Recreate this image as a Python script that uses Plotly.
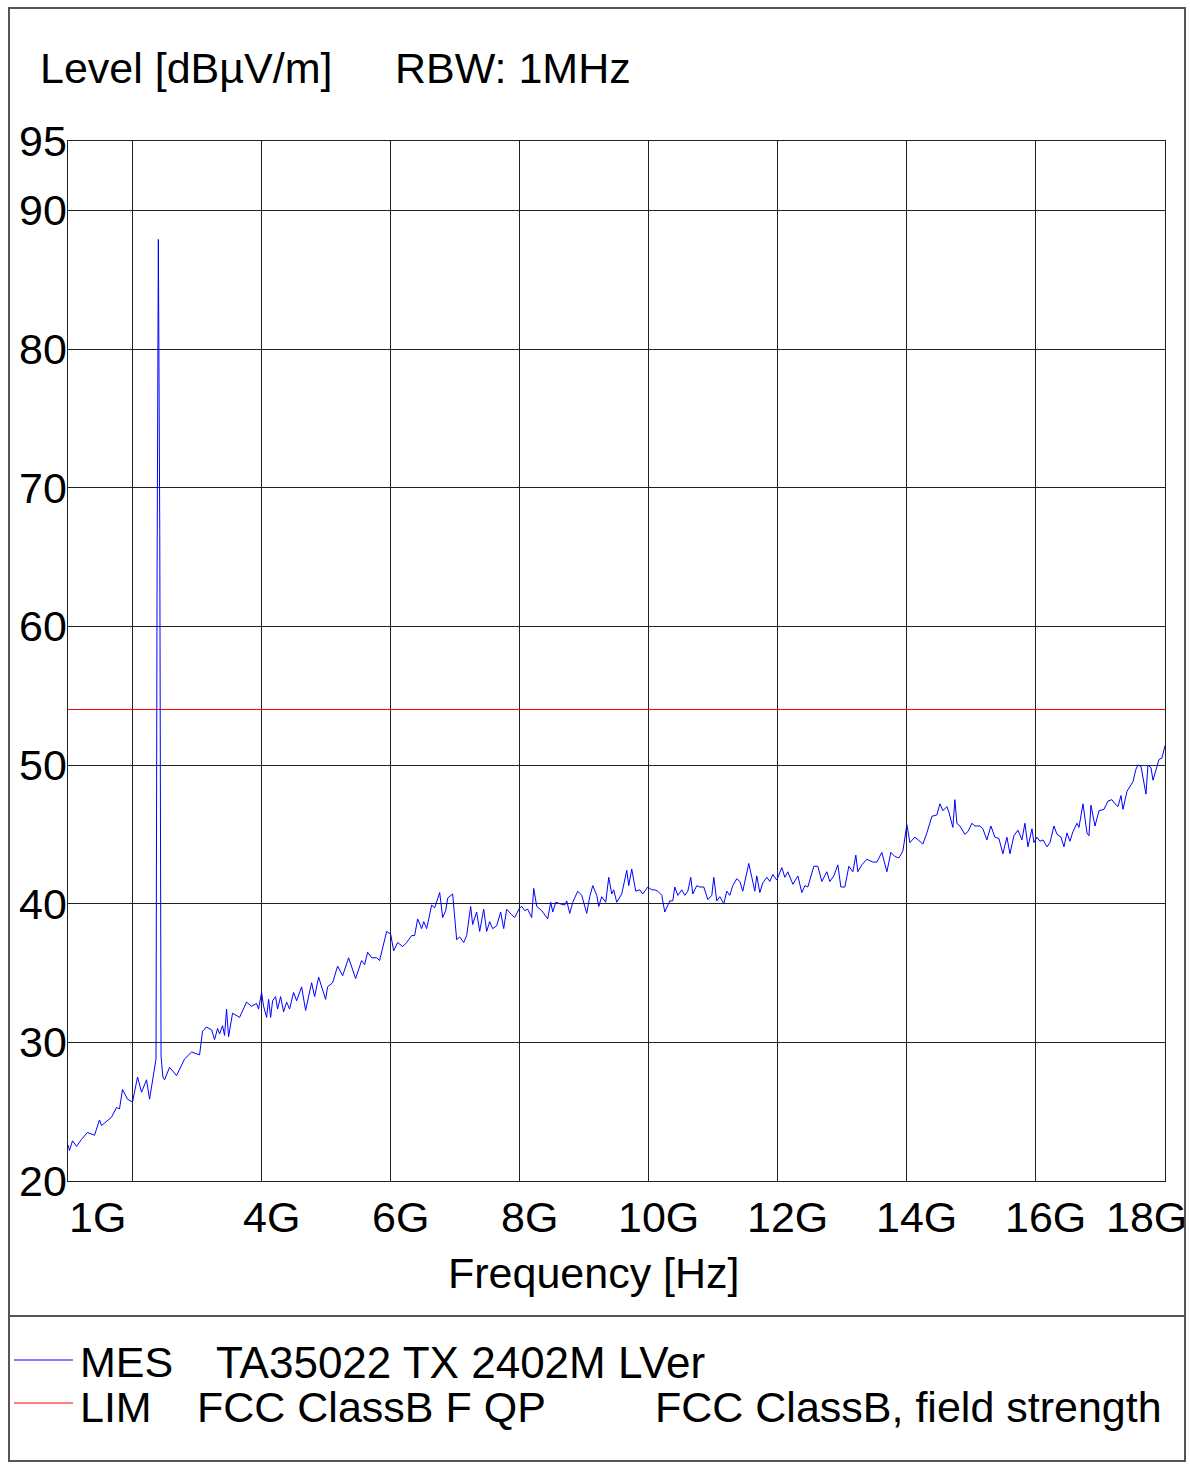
import plotly.graph_objects as go

# measurement trace (GHz, dBuV/m)
freq_ghz = [
    1.000, 1.023, 1.070, 1.132, 1.209, 1.302, 1.411, 1.488, 1.519, 1.597,
    1.674, 1.752, 1.798, 1.845, 1.922, 2.000, 2.078, 2.140, 2.217, 2.264,
    2.341, 2.364, 2.380, 2.400, 2.422, 2.442, 2.470, 2.496, 2.574, 2.682,
    2.806, 2.915, 3.039, 3.085, 3.147, 3.225, 3.271, 3.318, 3.349, 3.395,
    3.426, 3.457, 3.488, 3.550, 3.659, 3.767, 3.845, 3.922, 3.953, 4.000,
    4.031, 4.078, 4.109, 4.140, 4.171, 4.217, 4.248, 4.295, 4.341, 4.388,
    4.434, 4.496, 4.543, 4.620, 4.682, 4.775, 4.822, 4.884, 4.992, 5.023,
    5.101, 5.178, 5.256, 5.349, 5.457, 5.550, 5.597, 5.643, 5.705, 5.783,
    5.829, 5.876, 5.938, 6.000, 6.047, 6.109, 6.186, 6.248, 6.326, 6.372,
    6.419, 6.481, 6.512, 6.558, 6.636, 6.682, 6.760, 6.806, 6.853, 6.884,
    6.961, 7.023, 7.070, 7.132, 7.178, 7.240, 7.271, 7.333, 7.380, 7.442,
    7.488, 7.535, 7.581, 7.643, 7.705, 7.752, 7.798, 7.876, 7.922, 8.000,
    8.031, 8.078, 8.124, 8.186, 8.217, 8.264, 8.341, 8.434, 8.481, 8.512,
    8.558, 8.620, 8.698, 8.729, 8.775, 8.822, 8.899, 8.961, 9.008, 9.039,
    9.085, 9.132, 9.194, 9.225, 9.271, 9.333, 9.380, 9.426, 9.457, 9.504,
    9.581, 9.659, 9.690, 9.736, 9.798, 9.860, 9.907, 9.984, 10.047, 10.093,
    10.140, 10.202, 10.248, 10.326, 10.372, 10.403, 10.450, 10.512, 10.558, 10.605,
    10.651, 10.682, 10.744, 10.791, 10.853, 10.915, 10.977, 11.008, 11.054, 11.101,
    11.163, 11.209, 11.256, 11.302, 11.364, 11.411, 11.457, 11.519, 11.550, 11.597,
    11.643, 11.674, 11.721, 11.767, 11.829, 11.876, 11.922, 11.984, 12.062, 12.109,
    12.155, 12.233, 12.310, 12.372, 12.419, 12.465, 12.558, 12.620, 12.682, 12.760,
    12.806, 12.868, 12.930, 12.977, 13.039, 13.101, 13.163, 13.209, 13.240, 13.302,
    13.380, 13.473, 13.535, 13.612, 13.690, 13.752, 13.814, 13.876, 13.938, 14.000,
    14.047, 14.124, 14.202, 14.248, 14.310, 14.388, 14.465, 14.512, 14.558, 14.620,
    14.651, 14.713, 14.744, 14.775, 14.822, 14.899, 14.946, 15.008, 15.054, 15.132,
    15.178, 15.240, 15.302, 15.364, 15.426, 15.488, 15.550, 15.597, 15.659, 15.721,
    15.783, 15.829, 15.876, 15.938, 15.969, 16.016, 16.062, 16.109, 16.171, 16.217,
    16.279, 16.326, 16.388, 16.434, 16.481, 16.527, 16.574, 16.636, 16.667, 16.729,
    16.791, 16.822, 16.853, 16.915, 16.977, 17.054, 17.116, 17.178, 17.225, 17.271,
    17.318, 17.349, 17.411, 17.457, 17.504, 17.550, 17.581, 17.628, 17.659, 17.705,
    17.736, 17.783, 17.814, 17.860, 17.907, 17.953, 18.000,
]
level_dbuv = [
    22.6, 22.2, 22.9, 22.5, 23.0, 23.5, 23.3, 24.4, 24.0, 24.3,
    24.6, 25.3, 25.2, 26.6, 25.9, 25.7, 27.5, 26.4, 27.3, 25.9,
    28.3, 28.8, 63.0, 87.9, 67.0, 29.0, 27.5, 27.3, 28.2, 27.6,
    28.8, 29.3, 29.1, 30.8, 31.1, 30.9, 30.2, 31.0, 30.6, 31.2,
    30.5, 32.4, 30.4, 32.1, 31.8, 32.9, 32.6, 32.8, 32.4, 33.6,
    32.6, 31.8, 33.1, 31.8, 33.0, 33.3, 32.4, 33.3, 32.2, 32.9,
    32.4, 33.6, 33.0, 34.0, 32.3, 34.3, 33.3, 34.7, 33.1, 34.0,
    34.3, 35.5, 34.8, 36.1, 34.6, 35.9, 35.6, 36.5, 36.1, 36.1,
    35.9, 36.9, 38.0, 37.8, 36.6, 37.2, 36.9, 37.2, 37.7, 37.7,
    38.9, 38.2, 38.7, 38.2, 39.9, 39.7, 40.8, 39.0, 39.5, 40.4,
    40.7, 37.4, 37.6, 37.2, 37.7, 39.8, 38.5, 39.4, 38.0, 39.6,
    38.0, 38.7, 38.2, 38.4, 39.4, 38.2, 39.6, 39.2, 39.0, 39.7,
    39.8, 39.5, 39.6, 39.0, 41.1, 39.8, 39.5, 38.9, 40.1, 39.4,
    40.1, 40.0, 39.9, 40.2, 39.3, 40.1, 40.9, 40.6, 39.8, 39.3,
    40.5, 41.3, 40.6, 39.8, 40.5, 40.1, 41.9, 40.7, 41.0, 40.1,
    40.7, 42.4, 41.3, 42.5, 40.9, 41.0, 40.7, 41.2, 41.0, 41.0,
    40.9, 40.6, 39.4, 40.2, 40.2, 41.2, 40.6, 41.0, 40.6, 40.9,
    41.9, 40.7, 41.3, 41.2, 41.2, 40.3, 40.6, 41.9, 40.2, 40.5,
    40.0, 40.9, 40.6, 41.3, 41.8, 41.6, 40.9, 42.1, 42.9, 41.9,
    40.9, 42.0, 40.8, 41.5, 41.9, 41.6, 42.1, 41.7, 42.6, 41.9,
    42.3, 41.4, 42.0, 40.8, 41.3, 41.2, 42.7, 42.7, 41.6, 42.3,
    41.6, 42.0, 42.8, 41.2, 41.2, 42.7, 42.3, 43.5, 42.3, 42.8,
    43.2, 43.0, 43.0, 43.7, 42.3, 43.7, 43.4, 43.3, 43.8, 45.7,
    44.4, 44.8, 44.5, 44.3, 45.1, 46.3, 46.4, 47.2, 46.7, 47.0,
    46.6, 45.5, 47.5, 45.8, 45.6, 45.0, 45.2, 45.8, 45.6, 45.6,
    45.4, 44.6, 45.6, 44.8, 44.7, 43.6, 44.8, 43.6, 44.9, 45.3,
    44.6, 45.8, 44.1, 45.4, 44.4, 44.8, 44.5, 44.6, 44.1, 44.4,
    45.6, 45.0, 44.8, 44.1, 45.1, 44.5, 45.2, 45.8, 45.5, 47.2,
    45.1, 44.9, 47.1, 45.6, 46.7, 46.8, 47.4, 47.5, 47.2, 47.0,
    47.8, 46.8, 48.1, 48.5, 48.8, 49.7, 50.0, 49.9, 49.0, 47.9,
    50.0, 49.8, 48.9, 49.7, 50.4, 50.5, 51.4,
]

# limit line
limit_freq_ghz = [1.0, 18.0]
limit_level = [54.0, 54.0]

# axes
x_grid = [2, 4, 6, 8, 10, 12, 14, 16]
x_tick_vals = [1, 4, 6, 8, 10, 12, 14, 16, 18]
x_tick_text = ['1G', '4G', '6G', '8G', '10G', '12G', '14G', '16G', '18G']
y_grid = [30, 40, 50, 60, 70, 80, 90]
y_tick_vals = [20, 30, 40, 50, 60, 70, 80, 90, 95]

FONT = 'Arial, Liberation Sans, sans-serif'
W, H = 1190, 1464
L, R, T, B = 68, 1165, 141, 1181  # plot area in page pixels


def px(xp):
    return (xp - L) / (R - L)


def py(yp):
    return (B - yp) / (B - T)


fig = go.Figure()

fig.add_trace(go.Scatter(
    x=limit_freq_ghz, y=limit_level, mode='lines',
    line=dict(color='#ff0000', width=1), hoverinfo='skip'
))
fig.add_trace(go.Scatter(
    x=freq_ghz, y=level_dbuv, mode='lines',
    line=dict(color='#0000ff', width=1)
))

annotations = []
# x tick labels
x_shift = {1: 29, 18: -19}
for v, t in zip(x_tick_vals, x_tick_text):
    annotations.append(dict(
        x=v, y=py(1217), xref='x', yref='paper', text=t, showarrow=False,
        xanchor='center', yanchor='middle', xshift=x_shift.get(v, 10),
        font=dict(size=43, color='black', family=FONT)
    ))
# y tick labels
for v in y_tick_vals:
    annotations.append(dict(
        x=0, y=v, xref='paper', yref='y', text=str(v), showarrow=False,
        xanchor='right', yanchor='middle', xshift=1,
        font=dict(size=43, color='black', family=FONT)
    ))

texts = [
    ('Level [dBµV/m]', 38, 68, 43),
    ('RBW: 1MHz', 393, 68, 43),
    ('Frequency [Hz]', 446, 1273, 43),
    ('MES', 78, 1362, 43),
    ('TA35022 TX 2402M LVer', 214, 1362, 44),
    ('LIM', 78, 1407, 43),
    ('FCC ClassB F QP', 195, 1407, 43),
    ('FCC ClassB, field strength', 653, 1407, 43),
]
for t, xp, yp, fs in texts:
    annotations.append(dict(
        x=px(xp), y=py(yp), xref='paper', yref='paper', text=t, showarrow=False,
        xanchor='left', yanchor='middle',
        font=dict(size=fs, color='black', family=FONT)
    ))

shapes = [
    # outer frame and separator
    dict(type='rect', xref='paper', yref='paper', x0=px(9), x1=px(1185),
         y0=py(1461), y1=py(8), line=dict(color='#555555', width=2)),
    dict(type='line', xref='paper', yref='paper', x0=px(9), x1=px(1185),
         y0=py(1316), y1=py(1316), line=dict(color='#555555', width=2)),
    # legend samples
    dict(type='line', xref='paper', yref='paper', x0=px(14), x1=px(73),
         y0=py(1360), y1=py(1360), line=dict(color='#0000ff', width=1)),
    dict(type='line', xref='paper', yref='paper', x0=px(14), x1=px(73),
         y0=py(1403), y1=py(1403), line=dict(color='#ff0000', width=1)),
]

fig.update_layout(
    width=W, height=H,
    margin=dict(l=L, r=W - R, t=T, b=H - B),
    paper_bgcolor='white', plot_bgcolor='white',
    showlegend=False,
    annotations=annotations,
    shapes=shapes,
    xaxis=dict(range=[1, 18], tickvals=x_grid, showticklabels=False,
               showgrid=True, gridcolor='#202020', gridwidth=1, zeroline=False,
               showline=True, mirror=True, linecolor='#202020', linewidth=1),
    yaxis=dict(range=[20, 95], tickvals=y_grid, showticklabels=False,
               showgrid=True, gridcolor='#202020', gridwidth=1, zeroline=False,
               showline=True, mirror=True, linecolor='#202020', linewidth=1),
)

# the page's default body margin would push the figure 8px in
fig.write_html('out.html', config={'displayModeBar': False},
               post_script="document.body.style.margin = '0';")
